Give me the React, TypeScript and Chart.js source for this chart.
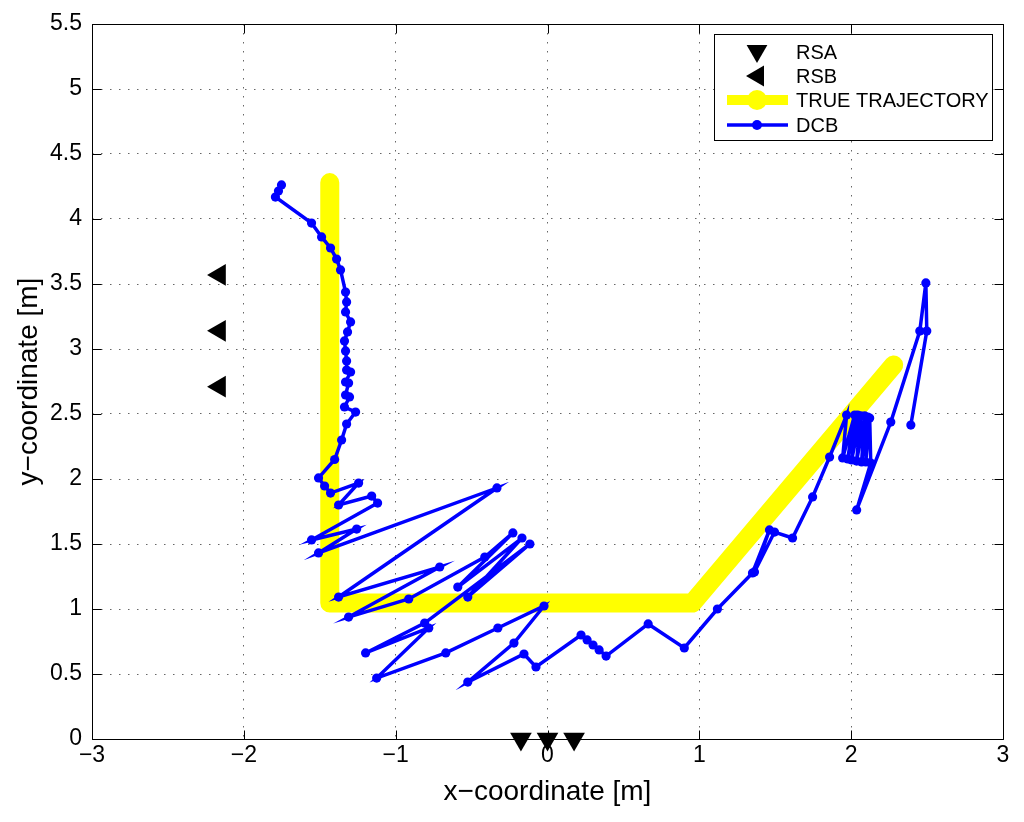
import React, { useEffect, useRef } from "react";
import { Chart, registerables } from "chart.js";

Chart.register(...registerables);

// ---- data ----
const xTicks = [-3, -2, -1, 0, 1, 2, 3];
const yTicks = [0, 0.5, 1, 1.5, 2, 2.5, 3, 3.5, 4, 4.5, 5, 5.5];

const rsaX = [-0.175, 0, 0.175];
const rsaY = [0, 0, 0];

const rsbX = [-2.16, -2.16, -2.16];
const rsbY = [3.57, 3.14, 2.71];

const trueX = [-1.434, -1.434, 0.954, 2.28];
const trueY = [4.28, 1.046, 1.046, 2.877];

const dcbX = [
  -1.752, -1.772, -1.792, -1.554, -1.488, -1.429, -1.389, -1.363, -1.33, -1.323,
  -1.33, -1.297, -1.317, -1.337, -1.33, -1.323, -1.323, -1.297, -1.33, -1.31,
  -1.33, -1.304, -1.337, -1.264, -1.323, -1.356, -1.402, -1.508, -1.468, -1.429,
  -1.244, -1.376, -1.158, -1.119, -1.554, -1.257, -1.508, -0.333, -1.376, -0.71,
  -1.31, -0.914, -0.413, -0.228, -0.591, -0.168, -0.525, -0.116, -0.809, -1.198,
  -0.782, -1.125, -0.67, -0.327, -0.023, -0.221, -0.525, -0.155, -0.076, 0.221,
  0.261, 0.3, 0.34, 0.386, 0.663, 0.901, 1.119, 1.35, 1.462, 1.363,
  1.495, 1.614, 1.746, 1.858, 1.97, 1.944, 2.023, 1.977, 2.043, 2.003,
  2.063, 2.036, 2.089, 2.069, 2.109, 2.096, 2.122, 2.129, 2.036, 2.261,
  2.452, 2.492, 2.498, 2.393,
];
const dcbY = [
  4.262, 4.215, 4.169, 3.969, 3.862, 3.777, 3.692, 3.608, 3.438, 3.362,
  3.285, 3.208, 3.131, 3.062, 2.985, 2.908, 2.838, 2.823, 2.746, 2.738,
  2.646, 2.631, 2.554, 2.515, 2.423, 2.3, 2.15, 2.008, 1.946, 1.892,
  1.969, 1.8, 1.869, 1.815, 1.531, 1.615, 1.431, 1.931, 1.092, 1.323,
  0.938, 1.077, 1.4, 1.585, 1.169, 1.546, 1.092, 1.5, 0.892, 0.662,
  0.854, 0.469, 0.662, 0.854, 1.023, 0.738, 0.438, 0.654, 0.554, 0.8,
  0.762, 0.723, 0.685, 0.638, 0.885, 0.7, 1.0, 1.277, 1.608, 1.285,
  1.592, 1.546, 1.862, 2.169, 2.492, 2.162, 2.492, 2.154, 2.492, 2.146,
  2.485, 2.138, 2.485, 2.131, 2.477, 2.131, 2.469, 2.123, 1.762, 2.438,
  3.138, 3.508, 3.138, 2.415,
];

const legendLabels = ["RSA", "RSB", "TRUE TRAJECTORY", "DCB"];

const FONT = "'Liberation Sans', Arial, Helvetica, sans-serif";
const BLUE = "#0000ff";
const YELLOW = "#ffff00";

const pts = (xs: number[], ys: number[]) => xs.map((x, i) => ({ x, y: ys[i] }));
const fmt = (v: number) => {
  const s = String(Number(Number(v).toFixed(2)));
  return s.replace("-", "\u2212");
};

const framePlugin = {
  id: "frameTicks",
  beforeDatasetsDraw(chart: any) {
    const { ctx, chartArea: a, scales } = chart;
    const L = Math.round(a.left) + 0.5;
    const R = Math.round(a.right) + 0.5;
    const T = Math.round(a.top) + 0.5;
    const B = Math.round(a.bottom) + 0.5;
    ctx.save();
    ctx.setLineDash([]);
    ctx.strokeStyle = "#000";
    ctx.lineWidth = 1;
    ctx.beginPath();
    ctx.rect(L, T, R - L, B - T);
    const tl = 9;
    xTicks.forEach((v) => {
      const px = Math.round(scales.x.getPixelForValue(v)) + 0.5;
      ctx.moveTo(px, B);
      ctx.lineTo(px, B - tl);
      ctx.moveTo(px, T);
      ctx.lineTo(px, T + tl);
    });
    yTicks.forEach((v) => {
      const py = Math.round(scales.y.getPixelForValue(v)) + 0.5;
      ctx.moveTo(L, py);
      ctx.lineTo(L + tl, py);
      ctx.moveTo(R, py);
      ctx.lineTo(R - tl, py);
    });
    ctx.stroke();
    ctx.restore();
  },
};

const tri = (ctx: any, x: number, y: number, r: number, rotDeg: number) => {
  let rad = (rotDeg * Math.PI) / 180;
  ctx.beginPath();
  for (let k = 0; k < 3; k++) {
    const px = x + Math.sin(rad) * r;
    const py = y - Math.cos(rad) * r;
    if (k === 0) ctx.moveTo(px, py);
    else ctx.lineTo(px, py);
    rad += (2 * Math.PI) / 3;
  }
  ctx.closePath();
  ctx.fill();
};

const legendPlugin = {
  id: "customLegend",
  afterDraw(chart: any) {
    const { ctx } = chart;
    const x0 = 714.5, y0 = 34.5, w = 278, h = 106;
    ctx.save();
    ctx.setLineDash([]);
    ctx.fillStyle = "#fff";
    ctx.fillRect(x0, y0, w, h);
    ctx.strokeStyle = "#000";
    ctx.lineWidth = 1;
    ctx.strokeRect(x0, y0, w, h);

    const mx = 757;
    const rows = [52, 76, 100, 125];
    ctx.fillStyle = "#000";
    tri(ctx, mx, rows[0] - 1, 12, 180);
    tri(ctx, mx + 1, rows[1], 12, -90);

    ctx.strokeStyle = YELLOW;
    ctx.lineWidth = 10;
    ctx.beginPath();
    ctx.moveTo(727, rows[2]);
    ctx.lineTo(788, rows[2]);
    ctx.stroke();
    ctx.fillStyle = YELLOW;
    ctx.beginPath();
    ctx.arc(mx, rows[2], 10, 0, Math.PI * 2);
    ctx.fill();

    ctx.strokeStyle = BLUE;
    ctx.lineWidth = 3.5;
    ctx.beginPath();
    ctx.moveTo(727, rows[3]);
    ctx.lineTo(788, rows[3]);
    ctx.stroke();
    ctx.fillStyle = BLUE;
    ctx.beginPath();
    ctx.arc(mx, rows[3], 5, 0, Math.PI * 2);
    ctx.fill();

    ctx.fillStyle = "#000";
    ctx.font = `20px ${FONT}`;
    ctx.textAlign = "left";
    ctx.textBaseline = "middle";
    legendLabels.forEach((t, i) => ctx.fillText(t, 796, rows[i] + 1));
    ctx.restore();
  },
};

export default function App() {
  const ref = useRef<HTMLCanvasElement | null>(null);

  useEffect(() => {
    document.body.style.margin = "0";
    const canvas = ref.current;
    if (!canvas) return;
    const chart = new Chart(canvas, {
      type: "scatter",
      data: {
        datasets: [
          {
            label: "RSA",
            data: pts(rsaX, rsaY),
            showLine: false,
            pointStyle: "triangle",
            rotation: 180,
            pointRadius: 12.5,
            pointBackgroundColor: "#000",
            pointBorderColor: "#000",
            pointBorderWidth: 0,
            clip: false,
          } as any,
          {
            label: "RSB",
            data: pts(rsbX, rsbY),
            showLine: false,
            pointStyle: "triangle",
            rotation: -90,
            pointRadius: 12.5,
            pointBackgroundColor: "#000",
            pointBorderColor: "#000",
            pointBorderWidth: 0,
            clip: false,
          } as any,
          {
            label: "DCB",
            data: pts(dcbX, dcbY),
            showLine: true,
            borderColor: BLUE,
            borderWidth: 3.5,
            borderJoinStyle: "miter",
            pointRadius: 4.6,
            pointBackgroundColor: BLUE,
            pointBorderColor: BLUE,
            pointBorderWidth: 0,
            clip: false,
          } as any,
          {
            label: "TRUE TRAJECTORY",
            data: pts(trueX, trueY),
            showLine: true,
            borderColor: YELLOW,
            borderWidth: 19,
            borderCapStyle: "round",
            borderJoinStyle: "round",
            pointRadius: 0,
            clip: false,
          } as any,
        ],
      },
      options: {
        responsive: false,
        animation: false,
        events: [],
        layout: { padding: { top: 24, right: 21, left: 0, bottom: 0 } },
        plugins: {
          legend: { display: false },
          tooltip: { enabled: false },
        },
        scales: {
          x: {
            type: "linear",
            min: -3,
            max: 3,
            afterFit: (s: any) => {
              s.height = 83;
            },
            afterBuildTicks: (s: any) => {
              s.ticks = xTicks.map((v) => ({ value: v }));
            },
            ticks: {
              callback: (v: any) => fmt(v),
              color: "#000",
              font: { size: 23, family: FONT },
              padding: 3,
              maxRotation: 0,
            },
            grid: {
              color: "rgba(0,0,0,0.6)",
              lineWidth: 1,
              drawTicks: false,
            },
            border: { display: false, dash: [1.5, 7.5] },
            title: {
              display: true,
              text: "x\u2212coordinate [m]",
              color: "#000",
              font: { size: 28, family: FONT },
              padding: { top: 0, bottom: 13 },
            },
          },
          y: {
            type: "linear",
            min: 0,
            max: 5.5,
            afterFit: (s: any) => {
              s.width = 92;
            },
            afterBuildTicks: (s: any) => {
              s.ticks = yTicks.map((v) => ({ value: v }));
            },
            ticks: {
              callback: (v: any) => fmt(v),
              color: "#000",
              font: { size: 23, family: FONT },
              padding: 10,
            },
            grid: {
              color: "rgba(0,0,0,0.6)",
              lineWidth: 1,
              drawTicks: false,
            },
            border: { display: false, dash: [1.5, 7.5] },
            title: {
              display: true,
              text: "y\u2212coordinate [m]",
              color: "#000",
              font: { size: 28, family: FONT },
              padding: { top: 12, bottom: 0 },
            },
          },
        },
      } as any,
      plugins: [framePlugin, legendPlugin],
    });
    return () => chart.destroy();
  }, []);

  return (
    <div style={{ width: 1024, height: 822, background: "#fff" }}>
      <canvas ref={ref} width={1024} height={822} style={{ display: "block" }} />
    </div>
  );
}
